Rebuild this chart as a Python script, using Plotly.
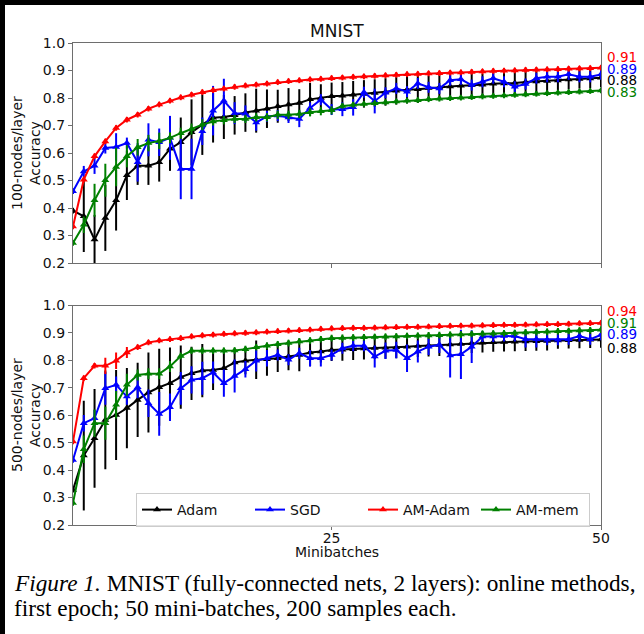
import plotly.graph_objects as go

W, H = 644, 634

minibatches = list(range(1, 51))
series_names = ["Adam", "SGD", "AM-Adam", "AM-mem"]
series_colors = ["#000000", "#0000ff", "#ff0000", "#008000"]

# ---- top panel: 100 nodes / layer ----
top_adam = [0.390, 0.370, 0.285, 0.364, 0.428, 0.519, 0.554, 0.554, 0.566, 0.615,
            0.639, 0.675, 0.703, 0.728, 0.731, 0.737, 0.747, 0.754, 0.761, 0.770,
            0.776, 0.782, 0.795, 0.800, 0.806,
            0.808, 0.812, 0.815, 0.818, 0.822, 0.826, 0.830, 0.832, 0.836, 0.838,
            0.842, 0.845, 0.846, 0.848, 0.852, 0.853, 0.855, 0.858, 0.860, 0.862,
            0.864, 0.867, 0.869, 0.871, 0.874]
top_adam_err = [0.01, 0.13, 0.09, 0.12, 0.11, 0.09, 0.07, 0.07, 0.07, 0.08,
                0.09, 0.12, 0.11, 0.09, 0.08, 0.07, 0.07, 0.08, 0.07, 0.06,
                0.06, 0.05, 0.06, 0.05, 0.05,
                0.05, 0.05, 0.05, 0.05, 0.05, 0.05, 0.05, 0.05, 0.045, 0.045,
                0.045, 0.045, 0.045, 0.04, 0.04, 0.04, 0.04, 0.04, 0.04, 0.04,
                0.035, 0.035, 0.035, 0.035, 0.035]
top_sgd = [0.461, 0.533, 0.554, 0.618, 0.622, 0.636, 0.566, 0.648, 0.639, 0.655,
           0.542, 0.542, 0.679, 0.754, 0.790, 0.745, 0.743, 0.711, 0.733, 0.736,
           0.729, 0.724, 0.764, 0.794, 0.758,
           0.759, 0.766, 0.821, 0.789, 0.819, 0.835, 0.823, 0.853, 0.839, 0.835,
           0.865, 0.868, 0.847, 0.859, 0.872, 0.859, 0.841, 0.851, 0.872, 0.877,
           0.877, 0.886, 0.877, 0.877, 0.886]
top_sgd_err = [0.01, 0.02, 0.03, 0.02, 0.05, 0.02, 0.07, 0.06, 0.05, 0.08,
               0.11, 0.11, 0.05, 0.09, 0.08, 0.04, 0.03, 0.03, 0.02, 0.02,
               0.02, 0.03, 0.02, 0.02, 0.02,
               0.025, 0.03, 0.02, 0.045, 0.02, 0.02, 0.02, 0.02, 0.02, 0.02,
               0.02, 0.02, 0.02, 0.02, 0.02, 0.02, 0.02, 0.02, 0.02, 0.02,
               0.02, 0.02, 0.02, 0.02, 0.02]
top_amadam = [0.333, 0.503, 0.588, 0.642, 0.691, 0.721, 0.739, 0.761, 0.776, 0.790,
              0.802, 0.812, 0.821, 0.828, 0.834, 0.840, 0.845, 0.848, 0.852, 0.857,
              0.861, 0.864, 0.867, 0.869, 0.872,
              0.874, 0.876, 0.878, 0.880, 0.882, 0.884, 0.886, 0.887, 0.889, 0.890,
              0.892, 0.893, 0.895, 0.896, 0.898, 0.899, 0.900, 0.902, 0.903, 0.904,
              0.905, 0.906, 0.907, 0.908, 0.910]
top_amadam_err = [0.01] * 50
top_ammem = [0.273, 0.339, 0.428, 0.501, 0.549, 0.588, 0.621, 0.636, 0.644, 0.655,
             0.672, 0.687, 0.703, 0.715, 0.719, 0.724, 0.724, 0.730, 0.730, 0.739,
             0.739, 0.742, 0.748, 0.752, 0.755,
             0.771, 0.775, 0.778, 0.781, 0.784, 0.787, 0.790, 0.792, 0.795, 0.797,
             0.799, 0.801, 0.803, 0.805, 0.807, 0.809, 0.811, 0.813, 0.815, 0.817,
             0.819, 0.821, 0.823, 0.825, 0.827]
top_ammem_err = [0.01, 0.03, 0.06, 0.06, 0.07, 0.04, 0.03, 0.03, 0.03, 0.02,
                 0.02, 0.02, 0.02, 0.015, 0.015, 0.015, 0.015, 0.015, 0.015, 0.015,
                 0.015, 0.015, 0.015, 0.015, 0.015] + [0.01] * 25

# ---- bottom panel: 500 nodes / layer ----
bot_adam = [0.328, 0.453, 0.516, 0.583, 0.601, 0.626, 0.656, 0.683, 0.702, 0.717,
            0.739, 0.753, 0.763, 0.765, 0.771, 0.792, 0.799, 0.802, 0.804, 0.808,
            0.814, 0.820, 0.829, 0.832, 0.838,
            0.839, 0.841, 0.843, 0.845, 0.846, 0.848, 0.850, 0.852, 0.854, 0.856,
            0.858, 0.860, 0.862, 0.864, 0.866, 0.867, 0.868, 0.869, 0.870, 0.871,
            0.872, 0.873, 0.874, 0.875, 0.876]
bot_adam_err = [0.01, 0.20, 0.18, 0.18, 0.164, 0.146, 0.135, 0.146, 0.14, 0.13,
                0.115, 0.097, 0.097, 0.073, 0.06, 0.05, 0.05, 0.07, 0.06, 0.05,
                0.05, 0.06, 0.05, 0.04, 0.04,
                0.04, 0.04, 0.04, 0.04, 0.04, 0.04, 0.04, 0.04, 0.04, 0.04,
                0.035, 0.035, 0.035, 0.035, 0.035, 0.035, 0.035, 0.035, 0.035, 0.035,
                0.03, 0.03, 0.03, 0.03, 0.03]
bot_sgd = [0.437, 0.571, 0.589, 0.698, 0.711, 0.668, 0.702, 0.644, 0.605, 0.629,
           0.698, 0.729, 0.735, 0.756, 0.717, 0.743, 0.768, 0.799, 0.808, 0.820,
           0.802, 0.826, 0.808, 0.808, 0.820,
           0.844, 0.853, 0.853, 0.814, 0.835, 0.838, 0.808, 0.832, 0.850, 0.857,
           0.818, 0.822, 0.850, 0.887, 0.887, 0.889, 0.889, 0.877, 0.877, 0.875,
           0.875, 0.877, 0.889, 0.877, 0.893]
bot_sgd_err = [0.01, 0.03, 0.03, 0.06, 0.03, 0.03, 0.04, 0.05, 0.08, 0.05,
               0.06, 0.05, 0.06, 0.04, 0.05, 0.06, 0.03, 0.04, 0.03, 0.02,
               0.02, 0.02, 0.03, 0.03, 0.02,
               0.02, 0.02, 0.02, 0.04, 0.03, 0.03, 0.05, 0.04, 0.03, 0.03,
               0.08, 0.09, 0.06, 0.02, 0.02, 0.02, 0.02, 0.03, 0.03, 0.02,
               0.02, 0.02, 0.02, 0.02, 0.02]
bot_amadam = [0.504, 0.735, 0.780, 0.780, 0.799, 0.829, 0.848, 0.865, 0.872, 0.877,
              0.881, 0.887, 0.891, 0.893, 0.896, 0.898, 0.900, 0.902, 0.904, 0.906,
              0.908, 0.910, 0.912, 0.914, 0.916,
              0.917, 0.918, 0.918, 0.919, 0.920, 0.921, 0.922, 0.922, 0.923, 0.924,
              0.925, 0.926, 0.926, 0.927, 0.928, 0.929, 0.929, 0.930, 0.931, 0.932,
              0.932, 0.933, 0.934, 0.935, 0.936]
bot_amadam_err = [0.01, 0.01, 0.01, 0.03, 0.03, 0.02] + [0.01] * 44
bot_ammem = [0.280, 0.476, 0.571, 0.571, 0.638, 0.711, 0.747, 0.751, 0.751, 0.778,
             0.816, 0.835, 0.835, 0.835, 0.835, 0.836, 0.841, 0.848, 0.853, 0.859,
             0.863, 0.869, 0.872, 0.877, 0.881,
             0.882, 0.883, 0.884, 0.885, 0.886, 0.887, 0.889, 0.890, 0.891, 0.892,
             0.893, 0.894, 0.896, 0.897, 0.898, 0.899, 0.900, 0.902, 0.903, 0.904,
             0.906, 0.907, 0.909, 0.910, 0.912]
bot_ammem_err = [0.01, 0.05, 0.05, 0.06, 0.05, 0.04, 0.02, 0.02, 0.02, 0.02] + [0.012] * 40

y_ticks = [0.2, 0.3, 0.4, 0.5, 0.6, 0.7, 0.8, 0.9, 1.0]
x_ticks = [25, 50]

top_end_labels = ["0.91", "0.89", "0.88", "0.83"]
top_end_colors = ["#ff0000", "#0000ff", "#000000", "#008000"]
bot_end_labels = ["0.94", "0.91", "0.89", "0.88"]
bot_end_colors = ["#ff0000", "#008000", "#0000ff", "#000000"]

title_text = "MNIST"
x_title = "Minibatches"
top_y_title = "100-nodes/layer<br>Accuracy"
bot_y_title = "500-nodes/layer<br>Accuracy"
caption_1 = "<i>Figure 1.</i> MNIST (fully-connected nets, 2 layers): online methods,"
caption_2 = "first epoch; 50 mini-batches, 200 samples each."

top_data = [(top_adam, top_adam_err), (top_sgd, top_sgd_err),
            (top_amadam, top_amadam_err), (top_ammem, top_ammem_err)]
bot_data = [(bot_adam, bot_adam_err), (bot_sgd, bot_sgd_err),
            (bot_amadam, bot_amadam_err), (bot_ammem, bot_ammem_err)]


def px(p):
    return p / W


def py(p):
    return 1 - p / H


FONT = "DejaVu Sans"
fig = go.Figure()

for panel, (data, xa, ya) in enumerate([(top_data, "x", "y"), (bot_data, "x2", "y2")]):
    for (vals, errs), name, col in zip(data, series_names, series_colors):
        fig.add_trace(go.Scatter(
            x=minibatches, y=vals, xaxis=xa, yaxis=ya,
            mode="lines+markers", name=name, legendgroup=name,
            showlegend=(panel == 1),
            line=dict(color=col, width=2),
            marker=dict(symbol="triangle-up", size=7, color=col),
            error_y=dict(type="data", array=errs, visible=True,
                         color=col, thickness=2, width=0),
        ))

axis_line = "#6e6e6e"
common_x = dict(range=[1, 50], tickvals=x_ticks, ticks="outside", ticklen=4,
                tickcolor=axis_line, showline=True, linecolor=axis_line, linewidth=1.3,
                mirror=True, showgrid=False, zeroline=False, automargin=False,
                ticklabelstandoff=-4,
                tickfont=dict(family=FONT, size=14, color="#111"))
common_y = dict(range=[0.2, 1.0], tickvals=y_ticks, tickformat=".1f", ticks="outside",
                ticklen=4, tickcolor=axis_line, showline=True, linecolor=axis_line,
                linewidth=1.3, mirror=True, showgrid=False, zeroline=False,
                automargin=False,
                tickfont=dict(family=FONT, size=14, color="#111"))

annotations = []
annotations.append(dict(text=title_text, x=px(337), y=py(31), xref="paper", yref="paper",
                        showarrow=False, xanchor="center", yanchor="middle",
                        font=dict(family=FONT, size=17, color="#111")))
annotations.append(dict(text=x_title, x=px(337), y=py(552), xref="paper", yref="paper",
                        showarrow=False, xanchor="center", yanchor="middle",
                        font=dict(family=FONT, size=14, color="#111")))
annotations.append(dict(text=top_y_title, x=px(26), y=py(153), xref="paper", yref="paper",
                        showarrow=False, xanchor="center", yanchor="middle", textangle=-90,
                        font=dict(family=FONT, size=14, color="#111")))
annotations.append(dict(text=bot_y_title, x=px(26), y=py(415), xref="paper", yref="paper",
                        showarrow=False, xanchor="center", yanchor="middle", textangle=-90,
                        font=dict(family=FONT, size=14, color="#111")))
for lab, col, yp in zip(top_end_labels, top_end_colors, [57.5, 69.5, 80.5, 91.5]):
    annotations.append(dict(text=lab, x=px(605), y=py(yp), xref="paper", yref="paper",
                            showarrow=False, xanchor="left", yanchor="middle",
                            font=dict(family=FONT, size=13.5, color=col)))
for lab, col, yp in zip(bot_end_labels, bot_end_colors, [311, 323, 334, 348]):
    annotations.append(dict(text=lab, x=px(605), y=py(yp), xref="paper", yref="paper",
                            showarrow=False, xanchor="left", yanchor="middle",
                            font=dict(family=FONT, size=13.5, color=col)))
annotations.append(dict(text=caption_1, x=px(12), y=py(583), xref="paper", yref="paper",
                        showarrow=False, xanchor="left", yanchor="middle",
                        font=dict(family="Liberation Serif", size=23.3, color="#000")))
annotations.append(dict(text=caption_2, x=px(12), y=py(608), xref="paper", yref="paper",
                        showarrow=False, xanchor="left", yanchor="middle",
                        font=dict(family="Liberation Serif", size=23.3, color="#000")))

shapes = [
    dict(type="rect", xref="paper", yref="paper", x0=0, x1=px(5), y0=0, y1=1,
         fillcolor="#000", line=dict(width=0)),
    dict(type="rect", xref="paper", yref="paper", x0=0, x1=1, y0=py(5), y1=1,
         fillcolor="#000", line=dict(width=0)),
]

fig.update_layout(
    width=W, height=H, margin=dict(l=0, r=0, t=0, b=0, pad=0, autoexpand=False),
    paper_bgcolor="white", plot_bgcolor="white",
    xaxis=dict(domain=[px(73), px(601)], anchor="y", showticklabels=False, **common_x),
    yaxis=dict(domain=[py(263), py(43)], anchor="x", **common_y),
    xaxis2=dict(domain=[px(73), px(601)], anchor="y2", **common_x),
    yaxis2=dict(domain=[py(525), py(305.5)], anchor="x2", **common_y),
    legend=dict(orientation="h", x=px(136), y=py(493), xanchor="left", yanchor="top",
                entrywidth=68, entrywidthmode="pixels",
                bgcolor="rgba(255,255,255,0.8)", bordercolor="#cccccc", borderwidth=1,
                font=dict(family=FONT, size=14, color="#111"), traceorder="normal"),
    annotations=annotations,
    shapes=shapes,
    showlegend=True,
)

fig.write_html("out.html")
